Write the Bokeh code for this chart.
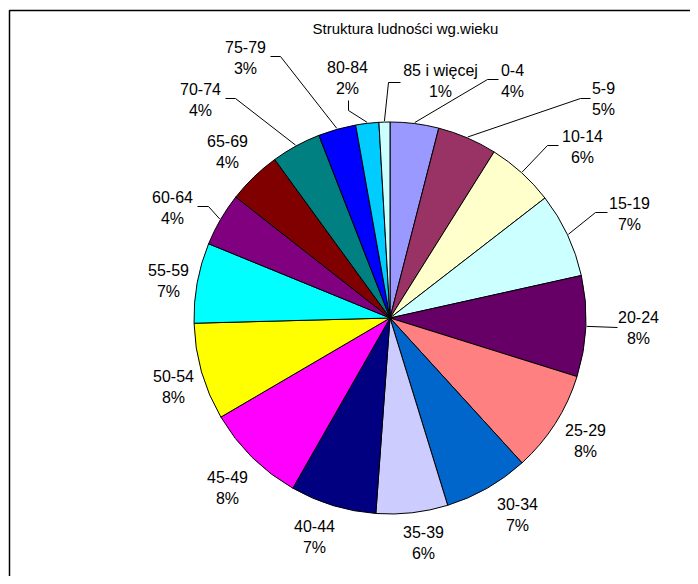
import math
from bokeh.plotting import figure
from bokeh.models import Range1d, ColumnDataSource
from bokeh.embed import file_html
from bokeh.resources import INLINE
from bokeh.core.properties import value

# ---- data ----
categories = ["0-4", "5-9", "10-14", "15-19", "20-24", "25-29", "30-34", "35-39",
              "40-44", "45-49", "50-54", "55-59", "60-64", "65-69", "70-74",
              "75-79", "80-84", "85 i więcej"]
shares = [4.0, 4.9, 5.6, 7.0, 8.3, 8.4, 7.0, 5.9, 7.1, 8.3, 8.0, 6.6, 4.4, 4.4,
          4.1, 3.1, 1.9, 0.9]
colors = ["#9999FF", "#993366", "#FFFFCC", "#CCFFFF", "#660066", "#FF8080",
          "#0066CC", "#CCCCFF", "#000080", "#FF00FF", "#FFFF00", "#00FFFF",
          "#800080", "#800000", "#008080", "#0000FF", "#00CCFF", "#CCFFFF"]
title_text = "Struktura ludności wg.wieku"

# ---- layout (pixel positions in the picture) ----
CX, CY, R = 389.5, 317.5, 196
label_pos = {
    "0-4": (512, 80), "5-9": (603, 98), "10-14": (582, 146), "15-19": (629, 213),
    "20-24": (638, 327), "25-29": (585, 440), "30-34": (517, 514), "35-39": (423, 542),
    "40-44": (314, 536), "45-49": (227, 487), "50-54": (173, 386), "55-59": (168, 280),
    "60-64": (172, 207), "65-69": (227, 151), "70-74": (200, 99), "75-79": (245, 57),
    "80-84": (347, 77), "85 i więcej": (440, 80),
}
leaders = {  # knee, end
    "85 i więcej": ((388, 82), (400, 82)),
    "0-4": ((487, 79), (498, 79)),
    "5-9": ((580, 98), (590, 98)),
    "10-14": ((547, 145), (558, 145)),
    "15-19": ((595, 212), (607, 212)),
    "20-24": ((617, 327), (617, 327)),
    "60-64": ((208, 206), (197, 206)),
    "70-74": ((235, 98), (225, 98)),
    "75-79": ((280, 56), (270, 56)),
    "80-84": ((348, 110), (348, 100)),
}

PW, PH = 690, 576

def dy(Y):
    return PH - Y

p = figure(width=PW, height=PH, x_range=Range1d(0, PW), y_range=Range1d(0, PH),
           output_backend="svg", toolbar_location=None,
           x_axis_type=None, y_axis_type=None, min_border=0)
p.grid.visible = False
p.outline_line_color = None
p.background_fill_color = "white"
p.border_fill_color = "white"

total = sum(shares)
starts, ends, mids = [], [], []
cum = 0.0
for v in shares:
    starts.append(math.pi / 2 - 2 * math.pi * cum / total)
    mids.append(2 * math.pi * (cum + v / 2) / total)
    cum += v
    ends.append(math.pi / 2 - 2 * math.pi * cum / total)

src = ColumnDataSource(dict(x=[CX] * len(shares), y=[dy(CY)] * len(shares),
                            start=starts, end=ends, color=colors, cat=categories))
p.wedge(x="x", y="y", radius=R, radius_units="screen", start_angle="start",
        end_angle="end", direction="clock", fill_color="color",
        line_color="black", line_width=1, source=src)

# leader lines
for cat, th in zip(categories, mids):
    if cat in leaders:
        (kx, ky), (ex, ey) = leaders[cat]
        sx0 = CX + (R + 1) * math.sin(th)
        sy0 = CY - (R + 1) * math.cos(th)
        p.line([sx0, kx, ex], [dy(sy0), dy(ky), dy(ey)], line_color="black", line_width=1)

# labels
pcts = [f"{round(v / total * 100)}%" for v in shares]
lx = [label_pos[c][0] for c in categories]
ly1 = [dy(label_pos[c][1] - 10.5) for c in categories]
ly2 = [dy(label_pos[c][1] + 10.5) for c in categories]
p.text(x=lx, y=ly1, text=categories, text_font=value("Liberation Sans"),
       text_font_size="16px", text_align="center", text_baseline="middle", text_color="black")
p.text(x=lx, y=ly2, text=pcts, text_font=value("Liberation Sans"),
       text_font_size="16px", text_align="center", text_baseline="middle", text_color="black")

# title
p.text(x=[405], y=[dy(28)], text=[title_text], text_font=value("Liberation Sans"),
       text_font_size="15px", text_align="center", text_baseline="middle", text_color="black")

# chart area frame (left and top edges visible)
p.line([9, 9, PW], [0, dy(10), dy(10)], line_color="black", line_width=1.5)

open("out.html", "w").write(file_html(p, INLINE))
